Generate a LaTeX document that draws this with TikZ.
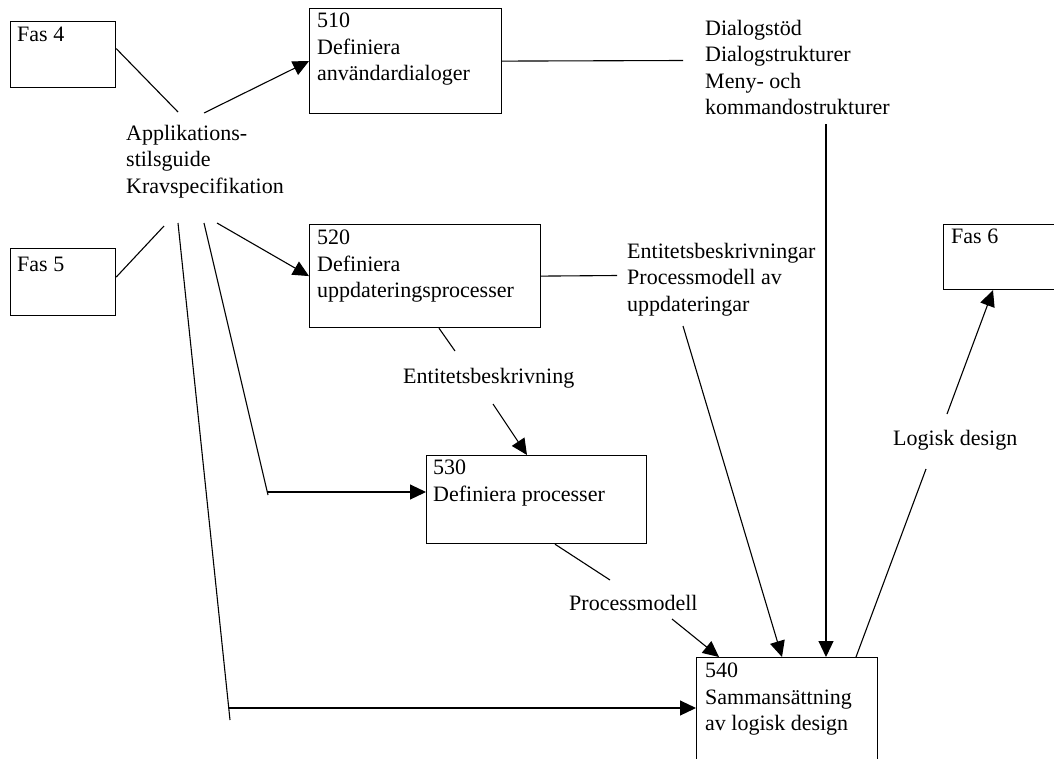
\documentclass[tikz,border=0pt]{standalone}
\usepackage{fontspec}
\setmainfont{Liberation Serif}
\usetikzlibrary{arrows.meta}
\begin{document}
\begin{tikzpicture}[x=1pt,y=-1pt,
  box/.style={draw, line width=1.2pt, inner sep=0pt, anchor=north west},
  txt/.style={anchor=north west, inner sep=0pt, align=left, font=\fontsize{22}{26.5}\selectfont},
  conn/.style={line width=1.1pt},
  arr/.style={conn, -{Triangle[length=16pt,width=15pt]}}]
\useasboundingbox (0,0) rectangle (1054,758);
\clip (0,0) rectangle (1054,758);
\fill[white] (0,0) rectangle (1054,758);

% boxes
\node[box, minimum width=105pt, minimum height=66pt] (fas4) at (10,21) {};
\node[box, minimum width=105pt, minimum height=67pt] (fas5) at (10,248) {};
\node[box, minimum width=117pt, minimum height=65pt] (fas6) at (943,224) {};
\node[box, minimum width=192pt, minimum height=105pt] (b510) at (309,8) {};
\node[box, minimum width=231pt, minimum height=103pt] (b520) at (309,224) {};
\node[box, minimum width=220pt, minimum height=88pt] (b530) at (426,455) {};
\node[box, minimum width=181pt, minimum height=130pt] (b540) at (696,657) {};

% box texts
\node[txt] (fas4t) at (17,27) {Fas 4};
\node[txt] (fas5t) at (17,257) {Fas 5};
\node[txt] (fas6t) at (951,229) {Fas 6};
\node[txt] (b510t) at (317,13) {510\\Definiera\\användardialoger};
\node[txt] (b520t) at (317,230) {520\\Definiera\\uppdateringsprocesser};
\node[txt] (b530t) at (433,460) {530\\Definiera processer};
\node[txt] (b540t) at (705,663) {540\\Sammansättning\\av logisk design};

% flow labels
\node[txt] (app) at (126,125) {Applikations-\\stilsguide\\Kravspecifikation};
\node[txt] (dlg) at (705,20) {Dialogstöd\\Dialogstrukturer\\Meny- och\\kommandostrukturer};
\node[txt] (ent) at (627,243) {Entitetsbeskrivningar\\Processmodell av\\uppdateringar};
\node[txt] (ent1) at (403,368) {Entitetsbeskrivning};
\node[txt] (pm) at (569,595) {Processmodell};
\node[txt] (lg) at (893,430) {Logisk design};

% connector end points near labels
\coordinate (a1) at (178,112);
\coordinate (a2) at (204,113);
\coordinate (a3) at (164,226);
\coordinate (a4) at (217,223);
\coordinate (a5) at (178,223);
\coordinate (c1) at (230,720);
\coordinate (h1) at (228.7,708);
\coordinate (a6) at (204,223);
\coordinate (c2) at (268,495);
\coordinate (h2) at (267.3,492);
\coordinate (d1) at (683,60.5);
\coordinate (d2) at (826,124);
\coordinate (e1) at (617,275.5);
\coordinate (e2) at (683,326);
\coordinate (f1) at (455,351);
\coordinate (f2) at (493,404);
\coordinate (g1) at (610,580);
\coordinate (g2) at (672,619);
\coordinate (k1) at (926,469);
\coordinate (k2) at (947,414);

% connectors
\draw[conn] ([yshift=6pt]fas4.east) -- (a1);
\draw[arr] (a2) -- (b510.west);
\draw[conn] ([yshift=5pt]fas5.east) -- (a3);
\draw[arr] (a4) -- (b520.west);
\draw[conn] (a5) -- (c1);
\draw[arr] (h1) -- (h1 -| b540.west);
\draw[conn] (a6) -- (c2);
\draw[arr] (h2) -- (h2 -| b530.west);
\draw[conn] (b510.east) -- (d1);
\draw[arr] (d2) -- (d2 |- b540.north);
\draw[conn] (b520.east) -- (e1);
\draw[arr] (e2) -- ([xshift=86pt]b540.north west);
\draw[conn] ([xshift=130pt]b520.south west) -- (f1);
\draw[arr] (f2) -- ([xshift=101pt]b530.north west);
\draw[conn] ([xshift=129pt]b530.south west) -- (g1);
\draw[arr] (g2) -- ([xshift=23pt]b540.north west);
\draw[conn] ([xshift=160pt]b540.north west) -- (k1);
\draw[arr] (k2) -- ([xshift=50pt]fas6.south west);
\end{tikzpicture}
\end{document}
